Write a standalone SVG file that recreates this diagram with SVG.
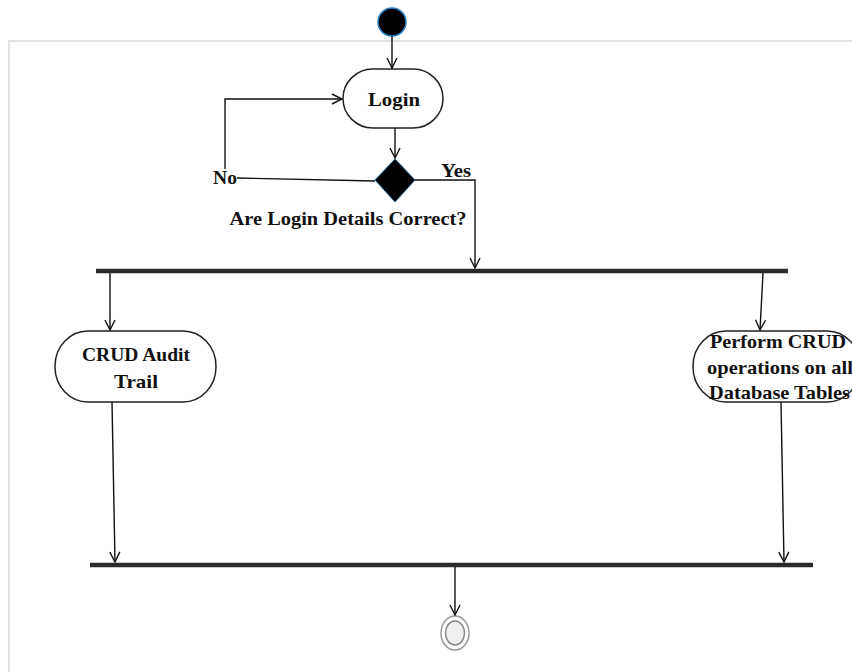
<svg xmlns="http://www.w3.org/2000/svg" width="852" height="672" viewBox="0 0 852 672">
<defs>
<style>
.node{fill:#fff;stroke:#222;stroke-width:1.5}
.edge{fill:none;stroke:#111;stroke-width:1.4}
.bar{stroke:#2b2b2b;stroke-width:4.5;stroke-linecap:butt}
.t{font-family:"Liberation Serif","Times New Roman",serif;font-weight:bold;font-size:19px;fill:#111}
</style>
<marker id="arr" viewBox="0 0 12 12" refX="11" refY="6" markerWidth="12" markerHeight="12" markerUnits="userSpaceOnUse" orient="auto">
<path d="M1,1 L11,6 L1,11" fill="none" stroke="#111" stroke-width="1.4"/>
</marker>
</defs>
<rect width="852" height="672" fill="#fff"/>
<path d="M9,672 V41 H852" fill="none" stroke="#e2e2e2" stroke-width="2"/>

<g id="start">
<circle cx="392" cy="22" r="14" fill="#000" stroke="#2a7fc0" stroke-width="1.5"/>
</g>
<g id="login">
<rect class="node" x="343" y="69" width="100" height="59" rx="30" ry="29.5"/>
<text class="t" x="394" y="106" text-anchor="middle" textLength="52" lengthAdjust="spacingAndGlyphs">Login</text>
</g>
<g id="decision">
<polygon points="395,159 415,180 395,202 375,180" fill="#000" stroke="#1a5f8a" stroke-width="1"/>
<text class="t" x="348" y="225" text-anchor="middle" textLength="237" lengthAdjust="spacingAndGlyphs">Are Login Details Correct?</text>
</g>
<g id="fork">
<line class="bar" x1="96" y1="271" x2="788" y2="271"/>
</g>
<g id="audit">
<rect class="node" x="55" y="331" width="161" height="71" rx="33" ry="35"/>
<text class="t" x="136" y="361" text-anchor="middle" textLength="108" lengthAdjust="spacingAndGlyphs">CRUD Audit</text>
<text class="t" x="136" y="388" text-anchor="middle" textLength="44" lengthAdjust="spacingAndGlyphs">Trail</text>
</g>
<g id="perform">
<rect class="node" x="693" y="331" width="167" height="71" rx="33" ry="35"/>
<text class="t" x="710" y="348" textLength="136" lengthAdjust="spacingAndGlyphs">Perform CRUD</text>
<text class="t" x="707" y="374" textLength="146" lengthAdjust="spacingAndGlyphs">operations on all</text>
<text class="t" x="709" y="399" textLength="141" lengthAdjust="spacingAndGlyphs">Database Tables</text>
</g>
<g id="join">
<line class="bar" x1="90" y1="565" x2="813" y2="565"/>
</g>
<g id="end">
<ellipse cx="455" cy="633" rx="14" ry="17" fill="#fff" stroke="#999" stroke-width="1.5"/>
<ellipse cx="455" cy="633" rx="9.5" ry="12" fill="#f0f0f0" stroke="#888" stroke-width="1.5"/>
</g>

<g id="connectors">
<line class="edge" x1="392" y1="36" x2="392" y2="68" marker-end="url(#arr)"/>
<line class="edge" x1="395" y1="128" x2="395" y2="158" marker-end="url(#arr)"/>
<polyline class="edge" points="375,181 237,178"/>
<polyline class="edge" points="225,169 225,99 342,99" marker-end="url(#arr)"/>
<polyline class="edge" points="415,180 475,180 475,268" marker-end="url(#arr)"/>
<line class="edge" x1="110" y1="273" x2="110" y2="330" marker-end="url(#arr)"/>
<line class="edge" x1="763" y1="273" x2="760" y2="330" marker-end="url(#arr)"/>
<line class="edge" x1="112" y1="402" x2="115" y2="562" marker-end="url(#arr)"/>
<line class="edge" x1="781" y1="402" x2="784" y2="562" marker-end="url(#arr)"/>
<line class="edge" x1="455" y1="567" x2="455" y2="615" marker-end="url(#arr)"/>
<text class="t" x="213" y="184" textLength="24" lengthAdjust="spacingAndGlyphs">No</text>
<text class="t" x="441" y="177" textLength="30" lengthAdjust="spacingAndGlyphs">Yes</text>
</g>
</svg>
